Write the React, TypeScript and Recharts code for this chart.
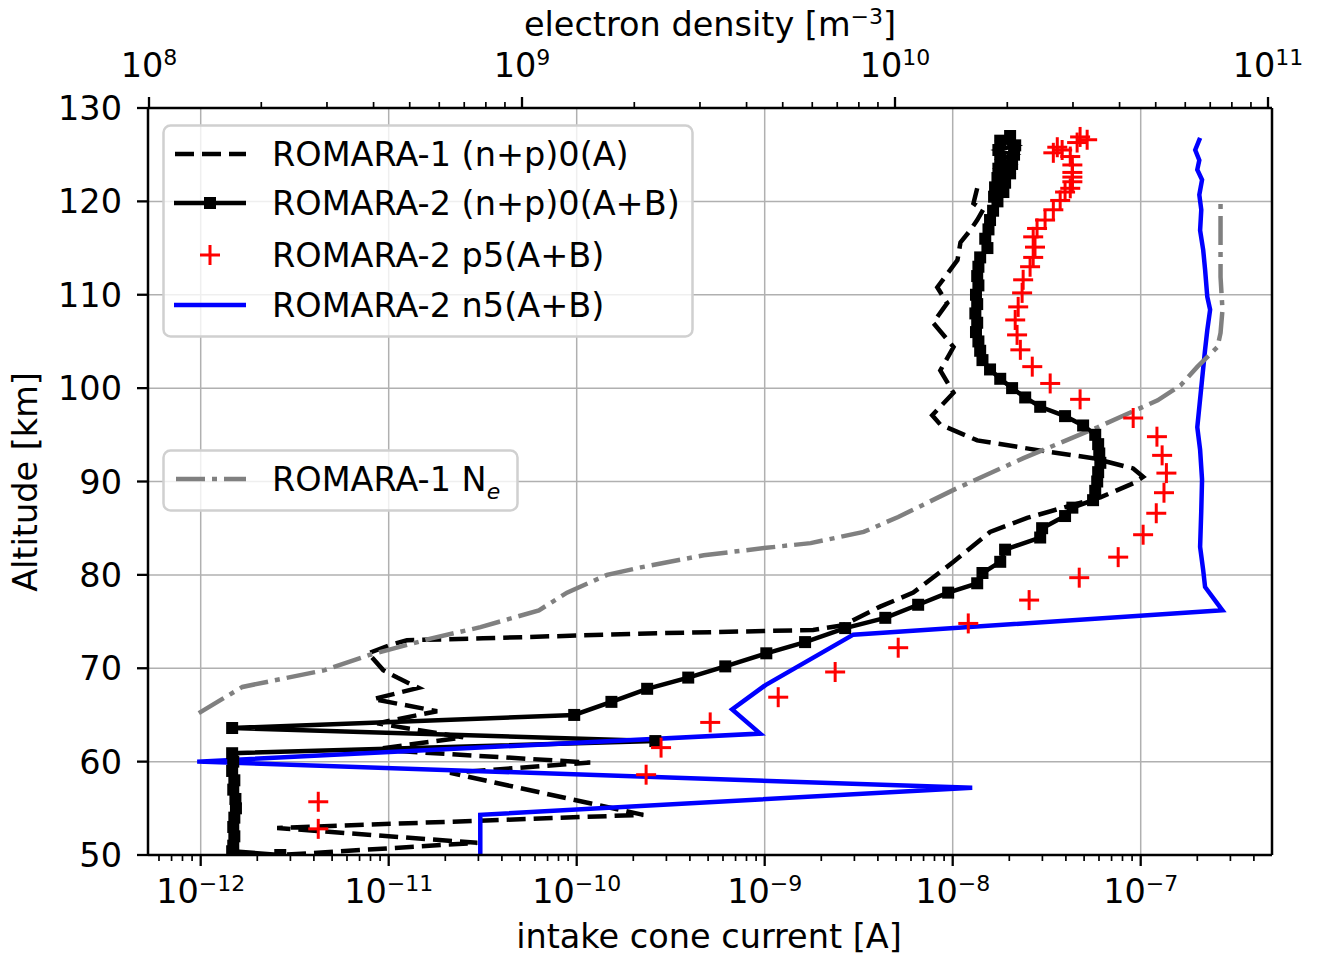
import React from "react";
import { ComposedChart, Line, Scatter, XAxis, YAxis, ReferenceLine } from "recharts";

// ROMARA-1 (n+p)0(A)  -- dashed black
const r1Current = [
  1.35e-8, 1.29e-8, 1.45e-8, 1.35e-8, 1.24e-8, 1.1e-8, 1.06e-8, 8.28e-9, 9.35e-9, 7.87e-9,
  1.01e-8, 8.59e-9, 1.01e-8, 7.78e-9, 8.59e-9, 1.35e-8, 3.18e-8, 5.58e-8, 9.12e-8, 1.03e-7,
  9.12e-8, 6.1e-8, 3.87e-8, 2.49e-8, 1.58e-8, 1.01e-8, 6.17e-9, 4.11e-9, 2.62e-9, 1.81e-9,
  2.1e-10, 3.18e-11, 1.25e-11, 1.02e-11, 7.78e-12, 9.35e-12, 1.11e-11, 1.44e-11, 8.28e-12, 1.81e-11,
  8.69e-12, 2.49e-11, 8.28e-12, 1.18e-10, 2.12e-11, 2.26e-10, 2.55e-12, 2.96e-11, 2.65e-12,
];
const r1Alt = [
  121.4, 119.8, 119.1, 118.0, 116.9, 115.6, 113.7, 110.8, 109.1, 107.0,
  104.4, 101.9, 99.5, 97.1, 96.1, 94.4, 93.2, 92.5, 91.4, 90.5,
  89.8, 88.3, 87.2, 86.1, 84.6, 81.4, 78.1, 76.6, 74.6, 74.1,
  73.7, 73.2, 73.0, 72.5, 71.6, 69.8, 69.0, 67.9, 66.7, 65.4,
  64.1, 62.6, 61.3, 59.9, 58.8, 54.3, 52.9, 51.3, 50.0,
];

// ROMARA-2 (n+p)0(A+B)  -- black squares
const r2Current = [
  2.02e-8, 1.79e-8, 2.15e-8, 1.75e-8, 2.12e-8, 1.79e-8, 2.07e-8, 1.75e-8, 2.02e-8, 1.73e-8,
  1.9e-8, 1.68e-8, 1.86e-8, 1.66e-8, 1.73e-8, 1.64e-8, 1.58e-8,
  1.55e-8, 1.49e-8, 1.53e-8, 1.4e-8, 1.37e-8, 1.35e-8, 1.37e-8, 1.33e-8, 1.35e-8, 1.32e-8,
  1.35e-8, 1.33e-8, 1.37e-8, 1.4e-8, 1.44e-8, 1.58e-8, 1.79e-8, 2.07e-8, 2.43e-8, 2.92e-8,
  3.96e-8, 4.94e-8, 5.73e-8, 5.94e-8, 6.02e-8, 6.1e-8, 5.94e-8, 5.87e-8, 5.73e-8, 5.58e-8,
  4.33e-8, 3.96e-8, 2.99e-8, 2.92e-8, 1.9e-8, 1.79e-8, 1.44e-8, 1.35e-8, 9.46e-9, 6.55e-9,
  4.38e-9, 2.68e-9, 1.64e-9, 1.02e-9, 6.17e-10, 3.92e-10, 2.37e-10, 1.53e-10, 9.7e-11, 1.47e-12,
  2.62e-10, 1.47e-12, 1.49e-12, 1.47e-12, 1.51e-12, 1.49e-12, 1.53e-12, 1.54e-12, 1.51e-12, 1.49e-12,
  1.51e-12, 1.49e-12, 1.47e-12, 2.65e-12,
];
const r2Alt = [
  127.0, 126.5, 126.0, 125.5, 125.0, 124.5, 124.0, 123.5, 123.0, 122.5,
  122.0, 121.5, 121.0, 120.5, 120.0, 119.0, 118.0,
  117.0, 116.0, 115.0, 114.0, 113.0, 112.0, 111.0, 110.0, 109.0, 108.0,
  107.0, 106.0, 105.0, 104.0, 103.0, 102.0, 101.0, 100.0, 99.0, 98.0,
  97.0, 96.0, 95.0, 94.0, 93.0, 92.0, 91.0, 90.0, 89.0, 88.0,
  87.2, 86.3, 85.0, 84.0, 82.7, 81.4, 80.2, 79.1, 78.1, 76.8,
  75.4, 74.3, 72.8, 71.6, 70.2, 69.0, 67.8, 66.4, 65.0, 63.6,
  62.2, 60.9, 60.0, 59.0, 58.0, 57.0, 56.0, 55.0, 54.0, 53.0,
  52.0, 51.0, 50.4, 50.0,
];

// ROMARA-2 p5(A+B)  -- red plus
const p5Current = [
  4.76e-8, 5.19e-8, 4.59e-8, 3.82e-8, 3.6e-8, 3.43e-8, 4.22e-8, 4.33e-8, 4.33e-8, 4.33e-8,
  4.33e-8, 4.22e-8, 3.96e-8, 3.73e-8, 3.43e-8, 3.1e-8, 2.81e-8, 2.68e-8, 2.74e-8, 2.68e-8,
  2.58e-8, 2.37e-8, 2.34e-8, 2.23e-8, 2.15e-8, 2.2e-8, 2.29e-8, 2.65e-8, 3.3e-8, 4.76e-8,
  9.12e-8, 1.22e-7, 1.3e-7, 1.37e-7, 1.33e-7, 1.21e-7, 1.03e-7, 7.59e-8, 4.71e-8, 2.55e-8,
  1.21e-8, 5.13e-9, 2.37e-9, 1.18e-9, 5.13e-10, 2.81e-10, 2.34e-10, 4.22e-12, 4.22e-12,
];
const p5Alt = [
  126.9, 126.6, 126.3, 125.5, 125.8, 125.2, 124.8, 123.9, 123.1, 122.6,
  122.1, 121.4, 121.0, 120.1, 119.1, 118.0, 117.1, 116.2, 115.1, 114.0,
  113.0, 111.6, 110.2, 108.7, 107.3, 105.7, 104.1, 102.3, 100.5, 98.8,
  96.8, 94.8, 92.8, 90.9, 88.8, 86.6, 84.3, 81.9, 79.7, 77.3,
  74.8, 72.2, 69.6, 66.9, 64.2, 61.5, 58.6, 55.7, 52.8,
];

// ROMARA-2 n5(A+B)  -- blue
const n5Current = [
  2.07e-7, 1.95e-7, 2.05e-7, 2.0e-7, 2.12e-7, 2.05e-7, 2.1e-7, 2.07e-7, 2.15e-7, 2.2e-7,
  2.26e-7, 2.34e-7, 2.26e-7, 2.2e-7, 2.12e-7, 2.0e-7, 2.07e-7, 2.12e-7, 2.1e-7, 2.07e-7,
  2.15e-7, 2.2e-7, 2.72e-7, 2.96e-9, 1.01e-9, 6.71e-10, 9.46e-10, 9.58e-13, 1.27e-8, 3.07e-11,
  3.07e-11,
];
const n5Alt = [
  126.8, 125.5, 124.4, 123.4, 122.3, 120.7, 119.1, 116.9, 114.8, 112.7,
  109.8, 108.4, 106.2, 104.1, 100.9, 95.8, 93.4, 90.2, 86.9, 83.0,
  80.5, 78.7, 76.2, 73.6, 68.2, 65.6, 63.0, 60.0, 57.2, 54.3,
  50.0,
];

// ROMARA-1 Ne  -- grey dash-dot, top axis
const neDensity = [
  1.36e8, 1.78e8, 2.96e8, 3.88e8, 5.72e8, 7.74e8, 1.11e9, 1.32e9, 1.69e9, 2.08e9,
  3.07e9, 4.52e9, 5.94e9, 8.24e9, 1.02e10, 1.47e10, 2.21e10, 3.49e10, 5.06e10, 5.83e10,
  6.47e10, 7.32e10, 7.46e10, 7.55e10, 7.46e10, 7.46e10, 7.46e10,
];
const neAlt = [
  65.2, 68.0, 69.8, 71.4, 73.2, 74.4, 76.2, 78.1, 80.0, 80.8,
  82.1, 82.9, 83.4, 84.6, 86.2, 89.3, 92.5, 95.8, 98.7, 100.3,
  102.3, 104.4, 105.9, 108.4, 111.9, 115.5, 120.0,
];

const altTicks = [50, 60, 70, 80, 90, 100, 110, 120, 130];
const currentMajor = [1e-12, 1e-11, 1e-10, 1e-9, 1e-8, 1e-7];

const currentDomain = [Math.pow(10, -12.2803), Math.pow(10, -6.3016)];
const densityDomain = [Math.pow(10, 7.9973), Math.pow(10, 11.0107)];

const FONT = "'DejaVu Sans', sans-serif";
const FS = 33.5;
const SUP = 22;

const zip = (xs: number[], ys: number[], key: string) => xs.map((v, i) => ({ [key]: v, alt: ys[i] }));

const r1Data = zip(r1Current, r1Alt, "x");
const r2Data = zip(r2Current, r2Alt, "x");
const p5Data = zip(p5Current, p5Alt, "x");
const n5Data = zip(n5Current, n5Alt, "x");
const neData = zip(neDensity, neAlt, "ne");

function logTicks(lo: number, hi: number) {
  const out: number[] = [];
  for (let e = Math.floor(Math.log10(lo)); e <= Math.ceil(Math.log10(hi)); e++) {
    for (let k = 1; k <= 9; k++) {
      const v = k * Math.pow(10, e);
      if (v >= lo && v <= hi) out.push(v);
    }
  }
  return out;
}

const isMajor = (v: number) => {
  const l = Math.log10(v);
  return Math.abs(l - Math.round(l)) < 1e-6;
};

const expLabel = (v: number) => {
  const e = Math.round(Math.log10(v));
  return e < 0 ? `\u2212${-e}` : `${e}`;
};

const BottomTick = (props: any) => {
  const { x, y, payload } = props;
  const v = payload.value;
  if (!isMajor(v)) return <line x1={x} x2={x} y1={y} y2={y + 6} stroke="#000" strokeWidth={1.7} />;
  return (
    <g>
      <line x1={x} x2={x} y1={y} y2={y + 11} stroke="#000" strokeWidth={2.3} />
      <text x={x} y={y + 48} textAnchor="middle" fontSize={FS} fontFamily={FONT} fill="#000">
        10<tspan dy={-12} fontSize={SUP}>{expLabel(v)}</tspan>
      </text>
    </g>
  );
};

const TopTick = (props: any) => {
  const { x, y, payload } = props;
  const v = payload.value;
  if (!isMajor(v)) return <line x1={x} x2={x} y1={y} y2={y - 6} stroke="#000" strokeWidth={1.7} />;
  return (
    <g>
      <line x1={x} x2={x} y1={y} y2={y - 11} stroke="#000" strokeWidth={2.3} />
      <text x={x} y={y - 31} textAnchor="middle" fontSize={FS} fontFamily={FONT} fill="#000">
        10<tspan dy={-12} fontSize={SUP}>{expLabel(v)}</tspan>
      </text>
    </g>
  );
};

const LeftTick = (props: any) => {
  const { x, y, payload } = props;
  return (
    <g>
      <line x1={x - 11} x2={x} y1={y} y2={y} stroke="#000" strokeWidth={2.3} />
      <text x={x - 26} y={y + 12} textAnchor="end" fontSize={FS} fontFamily={FONT} fill="#000">
        {payload.value}
      </text>
    </g>
  );
};

const SquareDot = (props: any) => {
  const { cx, cy, index } = props;
  return <rect key={`sq-${index}`} x={cx - 6} y={cy - 6} width={12} height={12} fill="#000" />;
};

const Plus = (props: any) => {
  const { cx, cy } = props;
  return (
    <g>
      <line x1={cx - 10} x2={cx + 10} y1={cy} y2={cy} stroke="#ff0000" strokeWidth={3} />
      <line x1={cx} x2={cx} y1={cy - 10} y2={cy + 10} stroke="#ff0000" strokeWidth={3} />
    </g>
  );
};

export default function App() {
  const textStyle = { fontFamily: FONT, fontSize: FS, fill: "#000" };
  return (
    <div style={{ position: "absolute", left: 0, top: 0, width: 1317, height: 961, background: "#fff" }}>
      <ComposedChart width={1317} height={961} margin={{ top: 48, right: 45, bottom: 46, left: 48 }}>
        {currentMajor.map((v) => (
          <ReferenceLine key={`gx${v}`} x={v} xAxisId="bottom" stroke="#b0b0b0" strokeWidth={1.5} />
        ))}
        {altTicks.map((v) => (
          <ReferenceLine key={`gy${v}`} y={v} xAxisId="bottom" stroke="#b0b0b0" strokeWidth={1.5} />
        ))}
        <XAxis
          xAxisId="bottom"
          dataKey="x"
          type="number"
          scale="log"
          domain={currentDomain}
          allowDataOverflow
          ticks={logTicks(currentDomain[0], currentDomain[1])}
          interval={0}
          tick={BottomTick}
          tickLine={false}
          tickSize={0}
          tickMargin={0}
          height={60}
          axisLine={{ stroke: "#000", strokeWidth: 2.5 }}
        />
        <XAxis
          xAxisId="top"
          orientation="top"
          dataKey="ne"
          type="number"
          scale="log"
          domain={densityDomain}
          allowDataOverflow
          ticks={logTicks(densityDomain[0], densityDomain[1])}
          interval={0}
          tick={TopTick}
          tickLine={false}
          tickSize={0}
          tickMargin={0}
          height={60}
          axisLine={{ stroke: "#000", strokeWidth: 2.5 }}
        />
        <YAxis
          dataKey="alt"
          type="number"
          domain={[50, 130]}
          allowDataOverflow
          ticks={altTicks}
          interval={0}
          tick={LeftTick}
          tickLine={false}
          tickSize={0}
          tickMargin={0}
          width={100}
          axisLine={{ stroke: "#000", strokeWidth: 2.5 }}
        />
        <Line
          xAxisId="bottom"
          data={r1Data}
          dataKey="alt"
          type="linear"
          stroke="#000"
          strokeWidth={4.5}
          strokeDasharray="19 8"
          dot={false}
          activeDot={false}
          isAnimationActive={false}
        />
        <Line
          xAxisId="bottom"
          data={r2Data}
          dataKey="alt"
          type="linear"
          stroke="#000"
          strokeWidth={4.5}
          dot={SquareDot}
          activeDot={false}
          isAnimationActive={false}
        />
        <Scatter xAxisId="bottom" data={p5Data} dataKey="alt" shape={Plus} isAnimationActive={false} />
        <Line
          xAxisId="bottom"
          data={n5Data}
          dataKey="alt"
          type="linear"
          stroke="#0000ff"
          strokeWidth={4.5}
          dot={false}
          activeDot={false}
          isAnimationActive={false}
        />
        <Line
          xAxisId="top"
          data={neData}
          dataKey="alt"
          type="linear"
          stroke="#808080"
          strokeWidth={4.5}
          strokeDasharray="29 7 5 7"
          dot={false}
          activeDot={false}
          isAnimationActive={false}
        />
        <ReferenceLine x={currentDomain[1]} xAxisId="bottom" stroke="#000" strokeWidth={2.5} ifOverflow="visible" />
      </ComposedChart>

      <svg
        width={1317}
        height={961}
        style={{ position: "absolute", left: 0, top: 0, pointerEvents: "none" }}
      >
        <text x={710} y={36} textAnchor="middle" style={textStyle}>
          electron density [m<tspan dy={-12} fontSize={SUP}>{"\u22123"}</tspan>
          <tspan dy={12}>]</tspan>
        </text>
        <text x={709} y={948} textAnchor="middle" style={textStyle}>
          intake cone current [A]
        </text>
        <text x={37} y={482} textAnchor="middle" transform="rotate(-90 37 482)" style={textStyle}>
          Altitude [km]
        </text>

        <rect x={163.5} y={125.5} width={529} height={211} rx={7} fill="#fff" fillOpacity={0.8} stroke="#d0d0d0" strokeWidth={2.5} />
        <line x1={175} x2={246} y1={154} y2={154} stroke="#000" strokeWidth={4.5} strokeDasharray="19 8" />
        <text x={272} y={166} style={textStyle}>ROMARA-1 (n+p)0(A)</text>
        <line x1={174} x2={246} y1={203} y2={203} stroke="#000" strokeWidth={4.5} />
        <rect x={204} y={197} width={12} height={12} fill="#000" />
        <text x={272} y={215} style={textStyle}>ROMARA-2 (n+p)0(A+B)</text>
        <line x1={200} x2={220} y1={255} y2={255} stroke="#ff0000" strokeWidth={3} />
        <line x1={210} x2={210} y1={245} y2={265} stroke="#ff0000" strokeWidth={3} />
        <text x={272} y={267} style={textStyle}>ROMARA-2 p5(A+B)</text>
        <line x1={174} x2={246} y1={305} y2={305} stroke="#0000ff" strokeWidth={4.5} />
        <text x={272} y={317} style={textStyle}>ROMARA-2 n5(A+B)</text>

        <rect x={163.5} y={450.5} width={354} height={60} rx={7} fill="#fff" fillOpacity={0.8} stroke="#d0d0d0" strokeWidth={2.5} />
        <line x1={176} x2={246} y1={479} y2={479} stroke="#808080" strokeWidth={4.5} strokeDasharray="29 7 5 7" />
        <text x={272} y={491} style={textStyle}>
          ROMARA-1 N<tspan dy={8} fontSize={SUP} fontStyle="italic">e</tspan>
        </text>
      </svg>
    </div>
  );
}
